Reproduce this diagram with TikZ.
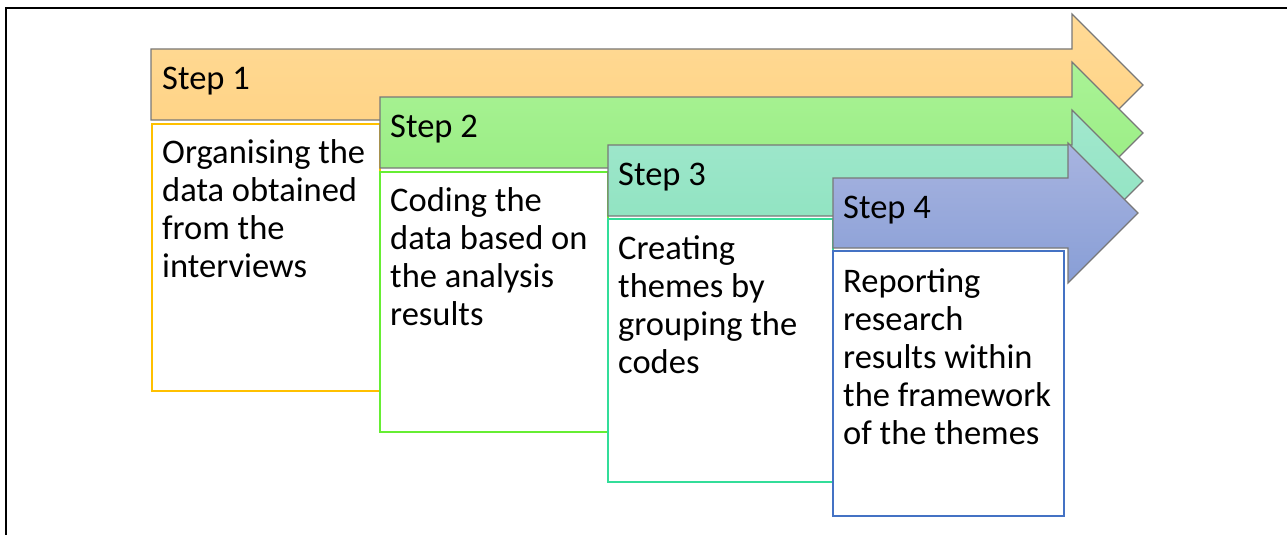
\documentclass[tikz,border=0pt]{standalone}
\usepackage{fontspec}
\setmainfont{Carlito}
\definecolor{aOneTop}{RGB}{255,218,150}
\definecolor{aOneBot}{RGB}{255,210,130}
\definecolor{aTwoTop}{RGB}{170,243,150}
\definecolor{aTwoBot}{RGB}{150,236,128}
\definecolor{aThreeTop}{RGB}{162,232,206}
\definecolor{aThreeBot}{RGB}{140,226,190}
\definecolor{aFourTop}{RGB}{168,180,224}
\definecolor{aFourBot}{RGB}{136,158,214}
\definecolor{arrowEdge}{RGB}{120,120,120}
\definecolor{bOne}{RGB}{255,192,0}
\definecolor{bTwo}{RGB}{102,238,51}
\definecolor{bThree}{RGB}{51,221,153}
\definecolor{bFour}{RGB}{68,114,196}
\newcommand{\lineset}[1]{\begin{tabular}[t]{@{}l@{}}#1\end{tabular}}
\begin{document}
\begin{tikzpicture}[x=1pt,y=-1pt,
  steparrow/.style 2 args={draw=arrowEdge,line width=1.2,line join=miter,top color=#1,bottom color=#2},
  stepbox/.style={draw=#1,fill=white,line width=1.4,anchor=north west,inner sep=0,outer sep=0},
  label/.style={anchor=base west,inner sep=0,font=\fontsize{34.5}{38}\selectfont}]
\useasboundingbox (0,0) rectangle (1287,535);
\clip (0,0) rectangle (1287,535);
% outer frame
\draw[line width=2.5] (6,8) rectangle (1320,570);

% step 1
\draw[steparrow={aOneTop}{aOneBot}] (151,49) -- (1072,49) -- (1072,14) -- (1143,85) -- (1072,156) -- (1072,120) -- (151,120) -- cycle;
\node[label] (s1) at (162,89) {Step 1};
\node[stepbox=bOne,minimum width=228,minimum height=267] (box1) at (152,124) {};
\node[label] (t1) at (162,163) {\lineset{Organising the\\data obtained\\from the\\interviews}};

% step 2
\draw[steparrow={aTwoTop}{aTwoBot}] (380,97) -- (1072,97) -- (1072,62) -- (1143,133) -- (1072,204) -- (1072,168) -- (380,168) -- cycle;
\node[label] (s2) at (390,137) {Step 2};
\node[stepbox=bTwo,minimum width=228,minimum height=260] (box2) at (380,172) {};
\node[label] (t2) at (390,211) {\lineset{Coding the\\data based on\\the analysis\\results}};

% step 3
\draw[steparrow={aThreeTop}{aThreeBot}] (608,145) -- (1072,145) -- (1072,110) -- (1143,181) -- (1072,252) -- (1072,216) -- (608,216) -- cycle;
\node[label] (s3) at (618,185) {Step 3};
\node[stepbox=bThree,minimum width=225,minimum height=263] (box3) at (608,219) {};
\node[label] (t3) at (618,259) {\lineset{Creating\\themes by\\grouping the\\codes}};

% step 4
\draw[steparrow={aFourTop}{aFourBot}] (833,178) -- (1068,178) -- (1068,143) -- (1138,213) -- (1068,283) -- (1068,248) -- (833,248) -- cycle;
\node[label] (s4) at (843,218) {Step 4};
\node[stepbox=bFour,minimum width=231,minimum height=265] (box4) at (833,251) {};
\node[label] (t4) at (843,292) {\lineset{Reporting\\research\\results within\\the framework\\of the themes}};
\end{tikzpicture}
\end{document}
